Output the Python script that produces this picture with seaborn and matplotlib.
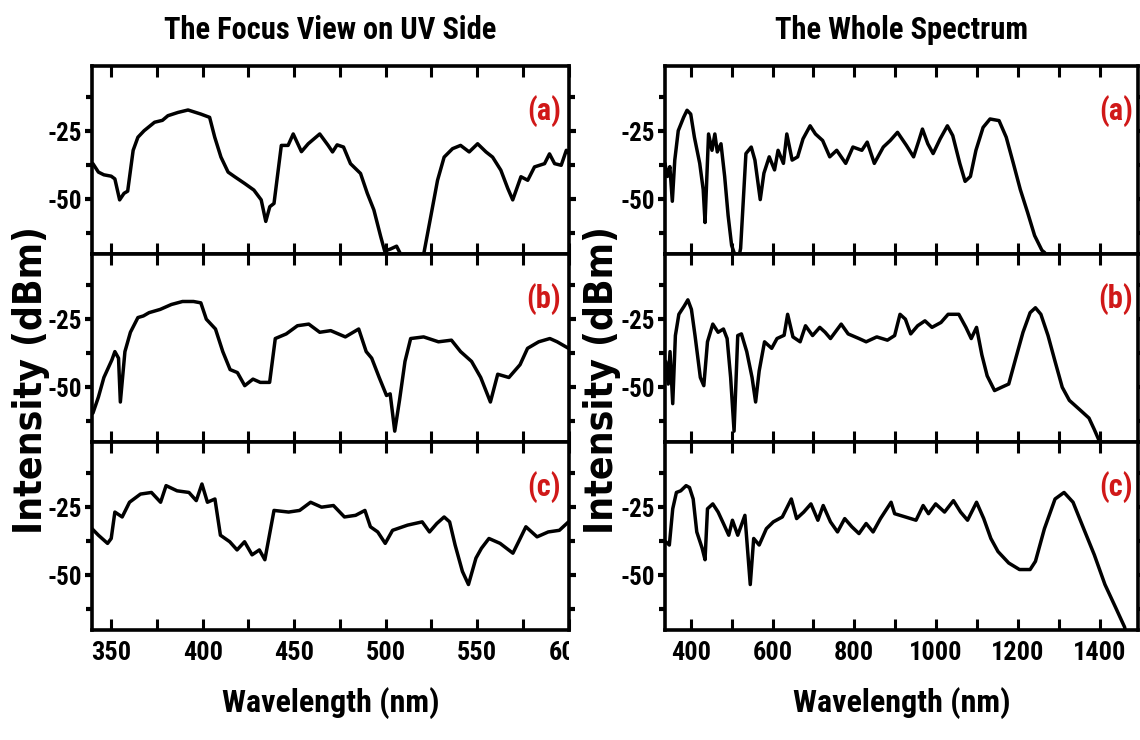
import numpy as np
import pandas as pd
import matplotlib
matplotlib.use("Agg")
import matplotlib.pyplot as plt
import seaborn as sns
from matplotlib.ticker import FixedLocator, MultipleLocator
from matplotlib.transforms import Bbox, TransformedBbox

# ---------------- data ----------------
uv_a_wl = [340, 343, 346, 350, 352, 354.6, 357, 359, 362, 364.6, 368, 373.7, 378, 381, 386.5, 392, 399,
           403.8, 406.6, 410, 413.9, 417.5, 423, 428, 432, 434.5, 436.7, 439, 443, 446.7, 449.5, 454,
           457.7, 464, 468.6, 471, 473.5, 477, 480.8, 486.3, 490, 493.6, 497.3, 499.5, 502.8, 506,
           508.5, 510, 519, 521, 524.7, 528.4, 532, 536.6, 541, 545.7, 550.3, 554.9, 558.5, 563,
           566.8, 569.5, 574, 577.7, 581.4, 586.9, 589.6, 592.4, 596, 598.8, 600]
uv_a_db = [-36.9, -40, -41, -41.5, -42.5, -50.2, -47.8, -47, -32, -27.2, -24.8, -21.7, -21, -19.3, -18.1,
           -17.2, -18.7, -19.9, -27.2, -34.5, -40, -41.7, -44.2, -46.6, -50.2, -58.1, -52.7, -51.5,
           -30.2, -30.2, -26, -32.5, -29.6, -26, -30.2, -32.6, -30, -30.8, -36.9, -40.5, -47.8,
           -53.9, -63.6, -69, -68.2, -67.2, -70.5, -80, -80, -69.5, -56.3, -43, -34.5, -31.4, -30.2,
           -32.6, -29.6, -32.6, -34.5, -39.3, -46, -50.2, -41.7, -43, -38.1, -36.9, -33.3, -36.9,
           -37.5, -32, -33]

uv_b_wl = [340, 343, 346, 350.4, 352, 354, 355, 357.5, 360.5, 364.6, 367.6, 370.7, 376.8, 382.9, 389,
           395, 399, 402, 407, 411, 415, 419, 423, 427.5, 431.5, 436.6, 439.7, 445.7, 451.8, 458,
           464, 470, 478, 485.3, 489.4, 492.4, 496.5, 500.5, 502.5, 505, 507.6, 510.6, 513.7,
           520.8, 528.9, 536, 541, 547, 552, 557.3, 561.3, 567.4, 573.5, 577.6, 583.7, 589.8,
           593.8, 600]
uv_b_db = [-59.5, -53.6, -46.4, -39.9, -36.9, -39.3, -55.4, -36.9, -29.8, -24.4, -23.8, -22.6, -21.4,
           -19.6, -18.5, -18.5, -19, -25, -28.6, -36.9, -43.5, -44.6, -49.4, -47, -48.2, -48.2,
           -32.1, -30.4, -27.4, -26.8, -29.8, -29.2, -31.5, -28.6, -36.9, -39.3, -46.4, -53,
           -52.4, -66.1, -54.8, -40.5, -32.1, -31.5, -33.3, -32.7, -36.9, -40.5, -46.4, -55.4,
           -45.2, -46.4, -41.7, -35.7, -33.3, -32.1, -33.3, -35.7]

uv_c_wl = [339.5, 343, 348, 350, 352, 356, 360, 366, 372, 377, 380, 386, 392.5, 396.5, 399.6, 402.6,
           406.7, 409.7, 414.8, 418.8, 422.9, 427, 431, 434, 439, 447, 453, 459, 465, 471.5,
           477.5, 483.6, 488.7, 491.7, 495.7, 499.8, 503.8, 512, 520, 524, 528, 532, 535, 538,
           542, 545.3, 549.4, 552.4, 556.5, 562.6, 569.6, 572.7, 576.7, 582.8, 588.9, 595, 600]
uv_c_db = [-32.9, -35.3, -38.3, -36.5, -26.8, -28.6, -23.2, -20.2, -19.6, -23.2, -17.1, -19, -19.6,
           -22.6, -16.5, -23.2, -22, -35.3, -37.7, -40.7, -37.7, -42.5, -40.7, -44.3, -26.2,
           -26.8, -26.2, -23.2, -25, -24.4, -28.6, -28, -26.2, -32.2, -34.1, -38.3, -33.5, -31.6,
           -30.4, -34.1, -31, -28.6, -30.4, -38.9, -48.6, -53.4, -43.7, -40.1, -36.5, -38.3,
           -41.9, -37.7, -32.2, -35.9, -34.1, -33.5, -30.4]

ws_a_wl = [337, 343, 349, 355, 361, 369.5, 382.6, 391, 400, 409, 422, 430.5, 435, 443.6, 452, 459, 465,
           474, 483, 491.5, 500, 506, 508, 516, 520, 522, 535, 548, 557, 570, 579, 592, 605, 613.6,
           626.7, 635, 648, 661.5, 674.6, 692, 705, 722.6, 740, 757, 779, 796.7, 818.5, 831.6,
           849, 871, 888, 905.7, 927.5, 945, 958, 966.7, 979.8, 992.8, 1010, 1027.7, 1040.8,
           1058, 1071, 1084, 1097.5, 1115, 1132, 1154, 1171.6, 1189, 1206, 1224, 1241, 1258.8,
           1266]
ws_a_db = [-36.8, -41.6, -38, -50.7, -35.6, -24.8, -19.9, -17.3, -18.7, -27.2, -36.8, -46.4, -58.5,
           -26, -32, -26, -32.6, -29.6, -41.6, -56, -66.9, -69.5, -80, -80, -69.5, -68, -33.2,
           -30.8, -35.6, -50.1, -40.4, -34.4, -39.2, -32, -36.8, -26, -35.6, -34.4, -27.8, -23,
           -26, -28.4, -34.4, -32, -36.8, -30.8, -32, -29, -36.8, -30.8, -28.4, -25.4, -30.2,
           -34.4, -28.4, -24.2, -29.6, -33.2, -27.8, -23, -26.6, -36.8, -43.4, -41.6, -32,
           -23.6, -20.5, -21.1, -27.2, -36.8, -46.4, -54.9, -63.3, -68.7, -69.6]

ws_b_wl = [339, 345, 349.4, 356, 362.5, 371, 384, 393, 401.7, 410.5, 423.5, 432, 441, 454, 467, 480,
           489, 497.6, 506, 515, 524, 537, 550, 558.7, 567.4, 580.5, 598, 611, 628.4, 637, 650,
           667.6, 680.7, 698, 715.6, 728.7, 741.8, 768, 785, 811.5, 829, 855, 881, 898.7, 911.8,
           925, 938, 955, 972.8, 990, 1012, 1029.5, 1055.6, 1073, 1086, 1099, 1112, 1125, 1143,
           1160, 1177.7, 1195, 1212.6, 1230, 1243, 1256.3, 1273.8, 1291, 1308.6, 1326, 1352,
           1374, 1387, 1400, 1405]
ws_b_db = [-40.5, -48.8, -36.9, -56, -31, -23.2, -20.2, -17.9, -21.4, -31, -46.4, -49.4, -33.3,
           -26.8, -29.8, -28.6, -32.1, -46.4, -66.1, -31, -30.4, -36.9, -46.4, -55.4, -44, -33.3,
           -35.7, -32.1, -30.9, -23.2, -31.5, -33.3, -27.4, -31, -28, -29.8, -32.1, -26.8, -30.4,
           -32.1, -33.3, -31.5, -32.7, -31, -23.2, -25, -30.4, -27.4, -25.6, -28, -26.2, -23.2,
           -23.2, -28, -32.1, -28, -38.1, -45.8, -51.2, -50, -48.8, -39.3, -29.8, -22.6, -20.8,
           -23.2, -31, -40.5, -50, -54.8, -58.3, -61.3, -65.5, -70, -75]

ws_c_wl = [339, 347.7, 356, 365, 375.6, 388.7, 397, 406, 414.8, 428, 435, 441, 454, 467, 480, 493, 502,
           515, 532.5, 545.6, 554, 567.4, 585, 602, 624, 646, 659, 676.4, 694, 711, 724, 741.8,
           759, 776.6, 794, 811.5, 829, 846, 864, 890, 898.7, 925, 951, 968.4, 981.5, 999,
           1020.7, 1042.5, 1060, 1077, 1099, 1116.6, 1134, 1151.5, 1177.7, 1204, 1230, 1243,
           1265, 1291, 1313, 1335, 1361, 1387, 1413, 1439, 1461, 1470]
ws_c_db = [-37.7, -38.9, -25.6, -19.6, -19, -17.1, -17.8, -22, -34.1, -40.1, -44.3, -25.6, -23.8,
           -26.8, -31, -35.3, -29.8, -35.3, -28, -53.4, -36.5, -38.9, -32.9, -30.4, -28.6, -22,
           -29.2, -26.8, -23.8, -29.8, -24.4, -30.4, -34.1, -29.2, -32.2, -34.7, -31, -34.1,
           -29.2, -23.2, -27.4, -28.6, -29.8, -24.4, -27.4, -23.8, -26.8, -22.6, -26.8, -29.8,
           -23.2, -29.2, -36.5, -41.3, -45.5, -47.9, -47.9, -44.9, -32.9, -22, -19.6, -23.2,
           -32.9, -42.5, -53.4, -61.8, -69, -75]

panel_tags = ["(a)", "(b)", "(c)"]
column_titles = ["The Focus View on UV Side", "The Whole Spectrum"]
uv_xticks = [350, 400, 450, 500, 550, 600]
ws_xticks = [400, 600, 800, 1000, 1200, 1400]
y_major = [-50, -25]
y_minor = [-62.5, -37.5, -12.5]

# ---------------- styling ----------------
sns.set_theme(style="ticks")
plt.rcParams['font.family'] = ['Roboto Condensed', 'Liberation Sans']
plt.rcParams['font.stretch'] = 'condensed'
plt.rcParams['font.weight'] = 'bold'
plt.rcParams['axes.unicode_minus'] = False
for key in ['text.color', 'axes.labelcolor', 'xtick.color', 'ytick.color', 'axes.edgecolor']:
    plt.rcParams[key] = 'black'

fig = plt.figure(figsize=(11.4, 7.4), dpi=100)

col_left = [0.0807, 0.5833]
col_width = [0.418, 0.415]
bottom0 = 0.149
ph = 0.254
xlims = [(339.5, 600), (337, 1494)]
xmin = [25, 100]
xtick_sets = [uv_xticks, ws_xticks]

series = [
    [(uv_a_wl, uv_a_db), (uv_b_wl, uv_b_db), (uv_c_wl, uv_c_db)],
    [(ws_a_wl, ws_a_db), (ws_b_wl, ws_b_db), (ws_c_wl, ws_c_db)],
]

clip_targets = []
for c in range(2):
    for r in range(3):
        wl, db = series[c][r]
        assert len(wl) == len(db)
        ax = fig.add_axes([col_left[c], bottom0 + (2 - r) * ph, col_width[c], ph])
        df = pd.DataFrame({"wl": wl, "db": db})
        sns.lineplot(data=df, x="wl", y="db", ax=ax, color="black", linewidth=2.5,
                     estimator=None, sort=False)
        ax.set_xlim(*xlims[c])
        ax.set_ylim(-70, -1)
        for s in ax.spines.values():
            s.set_linewidth(2.6)
            s.set_color("black")
            s.set_visible(True)
        ax.yaxis.set_major_locator(FixedLocator(y_major))
        ax.yaxis.set_minor_locator(FixedLocator(y_minor))
        ax.set_yticklabels(["-50", "-25"])
        ax.xaxis.set_major_locator(FixedLocator(xtick_sets[c]))
        ax.xaxis.set_minor_locator(MultipleLocator(xmin[c]))
        ax.tick_params(axis="y", which="major", direction="out", left=True, right=True,
                       length=5, width=3, labelsize=18, pad=2, colors="black")
        ax.tick_params(axis="y", which="minor", direction="out", left=True, right=True,
                       length=4, width=3, colors="black")
        ax.tick_params(axis="x", which="both", direction="in", top=True, bottom=True,
                       length=8, width=2.2, colors="black")
        ax.tick_params(axis="x", which="major", labelsize=19, pad=8)
        for lab in ax.get_yticklabels():
            lab.set_fontweight("bold")
        if r < 2:
            ax.tick_params(axis="x", labelbottom=False)
        else:
            ax.set_xticklabels([str(v) for v in xtick_sets[c]])
            for lab in ax.get_xticklabels():
                lab.set_fontweight("bold")
            ax.set_xlabel("Wavelength (nm)", fontsize=23, fontweight="bold", labelpad=16)
            if c == 0:
                clip_targets.append(ax)
        ax.set_ylabel("")
        if r == 0:
            ax.set_title(column_titles[c], fontsize=22, fontweight="bold", pad=19)
        ax.text(0.985 if c == 0 else 0.99, 0.76, panel_tags[r], transform=ax.transAxes,
                ha="right", va="center", color="#d01818", fontsize=22, fontweight="bold")

for xc in [0.027, 0.528]:
    fig.text(xc, 0.486, "Intensity (dBm)", rotation=90, ha="center", va="center",
             fontsize=28, fontweight="bold", family=["DejaVu Sans"])

fig.canvas.draw()
# the last UV tick label is cut at the axes' right edge in the reference
for ax in clip_targets:
    x_right = col_left[0] + col_width[0]
    clip = TransformedBbox(Bbox([[0, 0], [x_right, 1]]), fig.transFigure)
    for tick in ax.xaxis.get_major_ticks():
        tick.label1.set_clip_on(True)
        tick.label1.set_clip_box(clip)

fig.savefig("out.png", dpi=100)
